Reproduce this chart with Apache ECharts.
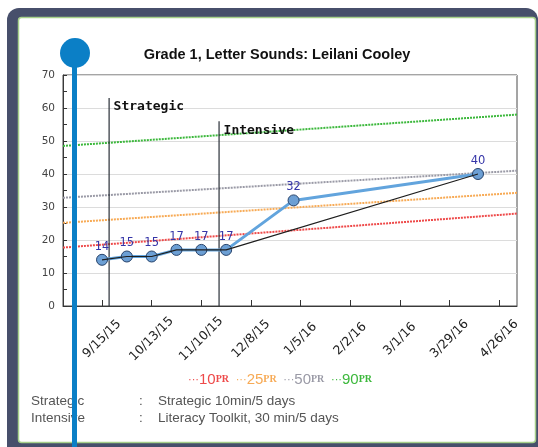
<!DOCTYPE html>
<html>
<head>
<meta charset="utf-8">
<script src="https://cdn.jsdelivr.net/npm/echarts@6/dist/echarts.min.js"></script>
<style>
html,body{margin:0;padding:0;background:#fff;}
#c{width:538px;height:447px;}
</style>
</head>
<body>
<div id="c"></div>
<script>
// ---- data ----
const titleText = 'Grade 1, Letter Sounds: Leilani Cooley';
const tickLabels = ['9/15/15','10/13/15','11/10/15','12/8/15','1/5/16','2/2/16','3/1/16','3/29/16','4/26/16'];
const tickDates = ['2015-09-15','2015-10-13','2015-11-10','2015-12-08','2016-01-05','2016-02-02','2016-03-01','2016-03-29','2016-04-26'];
const axisStart = '2015-08-24';
const axisEnd = '2016-05-06';
const scoreDates = ['2015-09-15','2015-09-29','2015-10-13','2015-10-27','2015-11-10','2015-11-24','2016-01-01','2016-04-14'];
const scores = [14,15,15,17,17,17,32,40];
const aimDates = ['2015-09-15','2015-09-29','2015-10-13','2015-10-27','2015-11-10','2015-11-24','2016-04-14'];
const aimValues = [14,15,15,17,17,17,40];
const pctNames = ['10','25','50','90'];
const pctStart = [17.7,25.2,32.8,48.5];
const pctEnd = [28,34.3,41,58];
const pctColors = ['#ee4a4a','#f7aa55','#9a9aa6','#3cb83c'];
const interventionNames = ['Strategic','Intensive'];
const interventionDates = ['2015-09-19','2015-11-20'];
const interventionTops = [63,56];
const noteLabels = ['Strategic','Intensive'];
const noteTexts = ['Strategic 10min/5 days','Literacy Toolkit, 30 min/5 days'];

// ---- helpers: dates -> day number (days since first tick date) ----
function ts(s){const p=s.split('-').map(Number);return Date.UTC(p[0],p[1]-1,p[2]);}
const base = ts(tickDates[0]);
function day(s){return Math.round((ts(s)-base)/86400000);}
const tickDays = tickDates.map(day);

const series = [];
pctNames.forEach((n,i)=>{
  series.push({
    name:n+'PR', type:'line', silent:true, symbol:'none', z:1,
    data:[[day(axisStart),pctStart[i]],[day(axisEnd),pctEnd[i]]],
    lineStyle:{color:pctColors[i],width:2,type:[2,1]}
  });
});
interventionNames.forEach((n,i)=>{
  series.push({
    name:n, type:'line', silent:true, symbol:'circle', symbolSize:1, showSymbol:true, z:3,
    itemStyle:{color:'rgba(0,0,0,0)'},
    data:[
      {value:[day(interventionDates[i]),interventionTops[i]],
       label:{show:true,formatter:n,position:'right',distance:4,offset:[0,9],
              fontFamily:'DejaVu Sans Mono',fontWeight:'bold',fontSize:13,color:'#111'}},
      {value:[day(interventionDates[i]),0],label:{show:false}}
    ],
    lineStyle:{color:'#2a2f38',width:1.2}
  });
});
series.push({
  name:'Scores', type:'line', z:5,
  data:scoreDates.map((d,i)=>[day(d),scores[i]]),
  symbol:'circle', symbolSize:11,
  itemStyle:{color:'#6c9fd4',borderColor:'#27436b',borderWidth:1},
  lineStyle:{color:'#62a4dd',width:3},
  label:{show:true,position:'top',distance:1,color:'#3535a8',fontSize:11.5,fontFamily:'DejaVu Sans'}
});
series.push({
  name:'Aim', type:'line', z:6, symbol:'none', silent:true,
  data:aimDates.map((d,i)=>[day(d),aimValues[i]]),
  lineStyle:{color:'#1e1e1e',width:1.2}
});

const rich = {};
let legendStr = '';
pctNames.forEach((n,i)=>{
  rich['d'+i]={fill:pctColors[i],fontSize:11,fontFamily:'Liberation Sans'};
  rich['n'+i]={fill:pctColors[i],fontSize:15,fontFamily:'Liberation Sans'};
  rich['p'+i]={fill:pctColors[i],fontSize:10,fontFamily:'Liberation Serif',fontWeight:'bold'};
  legendStr += (i?'  ':'')+'{d'+i+'|\u00b7\u00b7\u00b7}{n'+i+'|'+n+'}{p'+i+'|PR}';
});

const chart = echarts.init(document.getElementById('c'),null,{renderer:'canvas'});
chart.setOption({
  animation:false,
  backgroundColor:'#fff',
  title:{text:titleText,left:272,top:42,textAlign:'center',
    textStyle:{fontFamily:'Liberation Sans',fontWeight:'bold',fontSize:14.5,color:'#111'}},
  grid:{left:63,right:21,top:75,bottom:141,show:true,borderColor:'#4a4a4a',borderWidth:1,backgroundColor:'transparent'},
  xAxis:{
    type:'value', min:day(axisStart), max:day(axisEnd),
    axisLine:{onZero:false,lineStyle:{color:'#3a3a3a'}},
    axisTick:{show:true,inside:true,length:6,customValues:tickDays,lineStyle:{color:'#333'}},
    axisLabel:{customValues:tickDays,rotate:45,align:'center',verticalAlign:'middle',margin:33,
      fontFamily:'DejaVu Sans',fontSize:12.5,color:'#222',
      formatter:function(v){const k=tickDays.indexOf(v);return k>=0?tickLabels[k]:'';}},
    splitLine:{show:false}
  },
  yAxis:{
    type:'value', min:0, max:70, interval:10,
    axisLine:{show:true,onZero:false,lineStyle:{color:'#3a3a3a'}},
    axisTick:{show:true,inside:true,length:4,lineStyle:{color:'#333'}},
    minorTick:{show:true,splitNumber:2,length:4,lineStyle:{color:'#333'}},
    axisLabel:{fontFamily:'DejaVu Sans',fontSize:10.5,color:'#444',margin:8},
    splitLine:{show:true,lineStyle:{color:'#dcdcdc',width:1}}
  },
  series:series,
  graphic:[
    {type:'rect',z:-10,silent:true,shape:{x:7,y:8,width:531,height:450,r:12},style:{fill:'#474f6b'}},
    {type:'rect',z:-9,silent:true,shape:{x:18.5,y:17.5,width:517,height:425,r:3},style:{fill:'#ffffff',stroke:'#a6d08a',lineWidth:1.5}},
    {type:'text',z:10,x:280,y:372,style:{text:legendStr,rich:rich,align:'center'}},
    {type:'text',z:10,x:31,y:394,style:{text:noteLabels[0],fontFamily:'Liberation Sans',fontSize:13.5,fill:'#555'}},
    {type:'text',z:10,x:139,y:394,style:{text:':',fontFamily:'Liberation Sans',fontSize:13.5,fill:'#555'}},
    {type:'text',z:10,x:158,y:394,style:{text:noteTexts[0],fontFamily:'Liberation Sans',fontSize:13.5,fill:'#555'}},
    {type:'text',z:10,x:31,y:411,style:{text:noteLabels[1],fontFamily:'Liberation Sans',fontSize:13.5,fill:'#555'}},
    {type:'text',z:10,x:139,y:411,style:{text:':',fontFamily:'Liberation Sans',fontSize:13.5,fill:'#555'}},
    {type:'text',z:10,x:158,y:411,style:{text:noteTexts[1],fontFamily:'Liberation Sans',fontSize:13.5,fill:'#555'}},
    {type:'rect',z:100,silent:true,shape:{x:72,y:55,width:5,height:400},style:{fill:'#0b7fc6'}},
    {type:'circle',z:101,silent:true,shape:{cx:75,cy:53,r:15},style:{fill:'#0b7fc6'}}
  ]
});
</script>
</body>
</html>
